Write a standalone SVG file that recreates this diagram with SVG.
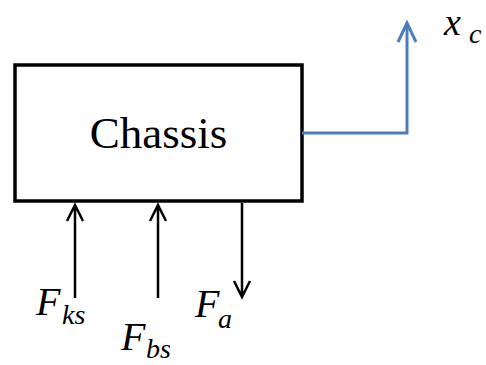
<svg xmlns="http://www.w3.org/2000/svg" width="486" height="365" viewBox="0 0 486 365">
<style>
.serif{font-family:"Liberation Serif",serif;fill:#000}
.math{font-family:"Liberation Serif",serif;font-style:italic;fill:#000}
.blk{stroke:#000;stroke-width:2.5;fill:none}
.blue{stroke:#4A7EBB;stroke-width:3;fill:none}
</style>
<rect width="486" height="365" fill="#fff"/>
<g id="chassis">
<rect x="15" y="65" width="287" height="136" fill="#fff" stroke="#000" stroke-width="3.5"/>
<text class="serif" x="158.5" y="148" text-anchor="middle" font-size="45">Chassis</text>
</g>
<g id="connectors">
<path class="blue" d="M302 133 H407 V23"/>
<path class="blue" d="M398 42 L407 23 L416 42"/>
<path class="blk" d="M75 298 V205 M67 221 L75 205 L83 221"/>
<path class="blk" d="M158 298 V205 M150 221 L158 205 L166 221"/>
<path class="blk" d="M242 203 V297 M234 281 L242 297 L250 281"/>
</g>
<g id="label-xc">
<text class="math" x="444" y="35" font-size="38">x</text>
<text class="math" x="469" y="43" font-size="28">c</text>
</g>
<g id="label-fks">
<text class="math" x="36" y="315" font-size="40">F</text>
<text class="math" x="62" y="324" font-size="28">ks</text>
</g>
<g id="label-fbs">
<text class="math" x="121" y="350" font-size="40">F</text>
<text class="math" x="146" y="358" font-size="28">bs</text>
</g>
<g id="label-fa">
<text class="math" x="195" y="317" font-size="40">F</text>
<text class="math" x="218" y="328" font-size="28">a</text>
</g>
</svg>
